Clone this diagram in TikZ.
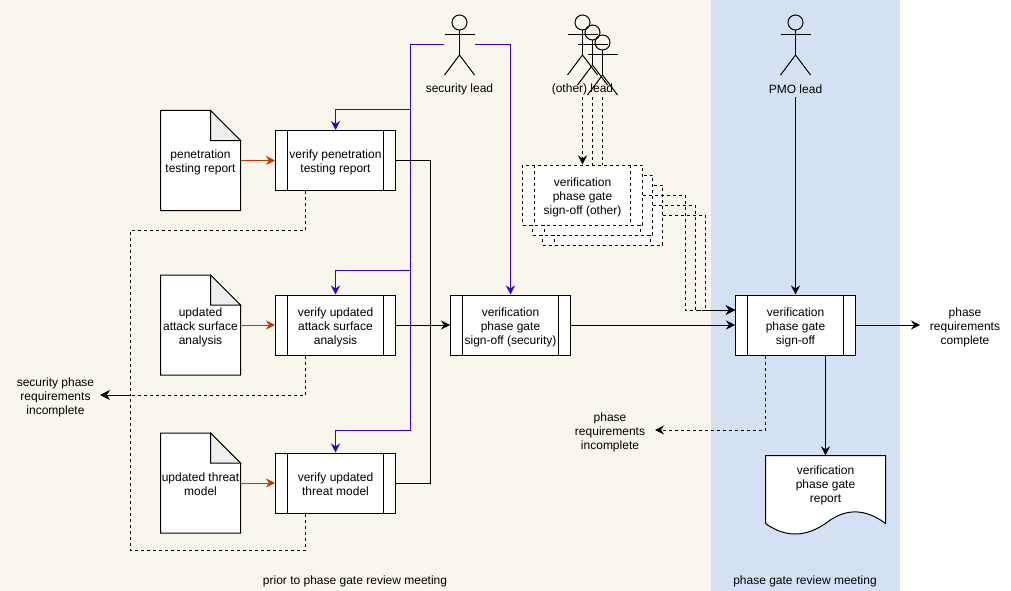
\documentclass[tikz,border=0pt]{standalone}
\usepackage{fontspec}
\setmainfont{Liberation Sans}
\usetikzlibrary{arrows.meta,calc}
\definecolor{beigebg}{HTML}{F9F7ED}
\definecolor{bluebg}{HTML}{D4E1F5}
\definecolor{blueline}{HTML}{3700CC}
\definecolor{redline}{HTML}{C73500}
\definecolor{foldgrey}{HTML}{EEEEEE}
\newcommand{\fl}{\rule{0pt}{12pt}}
\newcommand{\flb}{\rule{0pt}{14pt}}
\tikzset{
  every node/.style={font=\fontsize{12}{14}\selectfont, align=center, inner sep=0pt},
  line/.style={line width=1pt, line join=miter},
  conn/.style={line, -{Stealth[length=9pt,width=9pt,inset=3pt]}},
  plainconn/.style={line},
  dashline/.style={line, dash pattern=on 3pt off 3pt},
  dashconn/.style={conn, dash pattern=on 3pt off 3pt},
  procbox/.style={draw, line width=1pt, fill=white, minimum width=120pt, minimum height=60pt,
    path picture={
      \draw[line width=1pt] ($(path picture bounding box.north west)+(12pt,0)$) -- ($(path picture bounding box.south west)+(12pt,0)$);
      \draw[line width=1pt] ($(path picture bounding box.north east)+(-12pt,0)$) -- ($(path picture bounding box.south east)+(-12pt,0)$);
    }},
  dashprocbox/.style={draw, line width=1pt, dash pattern=on 3pt off 3pt, fill=white, minimum width=120pt, minimum height=60pt,
    path picture={
      \draw[line width=1pt, dash pattern=on 3pt off 3pt] ($(path picture bounding box.north west)+(12pt,0)$) -- ($(path picture bounding box.south west)+(12pt,0)$);
      \draw[line width=1pt, dash pattern=on 3pt off 3pt] ($(path picture bounding box.north east)+(-12pt,0)$) -- ($(path picture bounding box.south east)+(-12pt,0)$);
    }},
  docbox/.style={minimum width=80pt, minimum height=100pt},
  actorbox/.style={minimum width=30pt, minimum height=60pt},
  textlabel/.style={minimum height=16pt},
  endlabel/.style={minimum width=90pt}
}
% document with folded corner: name, centre x, centre y, text
\newcommand{\foldeddoc}[4]{%
  \filldraw[line, fill=white] (#2-40,#3-50) -- (#2+10,#3-50) -- (#2+40,#3-20) -- (#2+40,#3+50) -- (#2-40,#3+50) -- cycle;
  \filldraw[line, fill=foldgrey] (#2+10,#3-50) -- (#2+40,#3-20) -- (#2+10,#3-20) -- cycle;
  \node[docbox] (#1) at (#2,#3) {#4};
}
% stick figure: name, centre x, top y
\newcommand{\stickman}[3]{%
  \draw[line] (#2,#3+7.5) circle (7.5);
  \draw[line] (#2,#3+15) -- (#2,#3+40);
  \draw[line] (#2-15,#3+20) -- (#2+15,#3+20);
  \draw[line] (#2-15,#3+60) -- (#2,#3+40) -- (#2+15,#3+60);
  \node[actorbox] (#1) at (#2,#3+30) {};
}
\begin{document}
\begin{tikzpicture}[x=1pt,y=-1pt]
\useasboundingbox (0,0) rectangle (1011,591);
\fill[white] (0,0) rectangle (1011,591);
\fill[beigebg] (0,0) rectangle (711,591);
\fill[bluebg] (711,0) rectangle (900,591);

% background captions
\node (prior) at (355,581) {prior to phase gate review meeting};
\node (gate) at (805,581) {phase gate review meeting};

% stacked dashed boxes
\node[dashprocbox] (oth3) at (602.5,215) {};
\node[dashprocbox] (oth2) at (592.5,205) {};
\node[dashprocbox] (oth1) at (582.5,195) {\flb verification\\phase gate\\sign-off (other)};

% actors
\stickman{seclead}{459.5}{15}
\stickman{otha}{582.5}{15}
\stickman{othb}{592.5}{25}
\stickman{othc}{602.5}{35}
\stickman{pmo}{795.5}{15}
\node[textlabel] (seclabel) at (459.5,89) {security lead};
\node[textlabel] (othlabel) at (582.5,89) {(other) lead};
\node[textlabel] (pmolabel) at (795.5,89) {PMO lead};
\coordinate (othfoot1) at (582.5,97);
\coordinate (othfoot2) at (592.5,97);
\coordinate (othfoot3) at (602.5,97);

% documents
\foldeddoc{pendoc}{200.5}{160.5}{\fl penetration\\testing report}
\foldeddoc{atkdoc}{200.5}{325}{\flb updated\\attack surface\\analysis}
\foldeddoc{thrdoc}{200.5}{483}{\fl updated threat\\model}

% process boxes
\node[procbox] (penproc) at (335.5,160.5) {\fl verify penetration\\testing report};
\node[procbox] (atkproc) at (335.5,325) {\flb verify updated\\attack surface\\analysis};
\node[procbox] (thrproc) at (335.5,483) {\fl verify updated\\threat model};
\node[procbox] (secproc) at (510.5,325) {\flb verification\\phase gate\\sign-off (security)};
\node[procbox] (mainproc) at (795.5,325) {\flb verification\\phase gate\\sign-off};

% report document
\filldraw[line, fill=white] (765.5,455.5) -- (885.5,455.5) -- (885.5,523.5)
  .. controls (865,508) and (845,508) .. (825.5,523.5)
  .. controls (805,537.5) and (785,537.5) .. (765.5,523.5) -- cycle;
\node[minimum width=120pt, minimum height=80pt] (report) at (825.5,495.5) {};
\node (reporttext) at (825.5,484) {\fl verification\\phase gate\\report};

% end labels
\node[endlabel] (seclack) at (55.5,396) {\fl security phase\\requirements\\incomplete};
\node[endlabel] (phlack) at (610,431) {\fl phase\\requirements\\incomplete};
\node[endlabel] (phdone) at (965,326) {\fl phase\\requirements\\complete};

% document to process (red)
\draw[conn, redline] (pendoc.east) -- (penproc.west);
\draw[conn, redline] (atkdoc.east) -- (atkproc.west);
\draw[conn, redline] (thrdoc.east) -- (thrproc.west);

% security lead (blue)
\coordinate (trunk) at (410.5,45);
\draw[conn, blueline] (seclead.west) -- (trunk) -- (410.5,110) -| (penproc.north);
\draw[conn, blueline] (trunk) -- (410.5,270) -| (atkproc.north);
\draw[conn, blueline] (trunk) -- (410.5,430) -| (thrproc.north);
\draw[conn, blueline] (seclead.east) -| (secproc.north);

% solid flow
\draw[plainconn] (penproc.east) -- (430.5,160.5) -- (430.5,325);
\draw[plainconn] (thrproc.east) -- (430.5,483) -- (430.5,325);
\draw[conn] (atkproc.east) -- (secproc.west);
\draw[conn] (secproc.east) -- (mainproc.west);
\draw[conn] (mainproc.east) -- (920,325);
\draw[conn] (pmolabel.south) -- (mainproc.north);
\draw[conn] (825.5,355) -- (report.north);

% dashed: rejected branches
\draw[dashconn] (penproc.south -| 305.5,0) -- (305.5,230) -- (130.5,230) -- (130.5,395) -- (100.5,395);
\draw[dashconn] (thrproc.south -| 305.5,0) -- (305.5,550) -- (130.5,550) -- (130.5,395) -- (100.5,395);
\draw[dashconn] (atkproc.south -| 305.5,0) -- (305.5,395) -- (100.5,395);
\draw[dashconn] (mainproc.south -| 765.5,0) -- (765.5,430) -- (655,430);

% dashed: other leads
\draw[dashconn] (othfoot1) -- (othfoot1 |- oth1.north);
\draw[dashline] (othfoot2) -- (othfoot2 |- oth1.north);
\draw[dashline] (othfoot3) -- (othfoot3 |- oth1.north);

% dashed: other sign-offs to main
\coordinate (mainin) at ($(mainproc.west)+(0,-15)$);
\draw[dashconn] (oth1.east) -- (685.5,195) -- (685.5,310) -- (mainin);
\draw[dashconn] (oth2.east) -- (695.5,205) -- (695.5,310) -- (mainin);
\draw[dashconn] (oth3.east) -- (705.5,215) -- (705.5,310) -- (mainin);
\end{tikzpicture}
\end{document}
